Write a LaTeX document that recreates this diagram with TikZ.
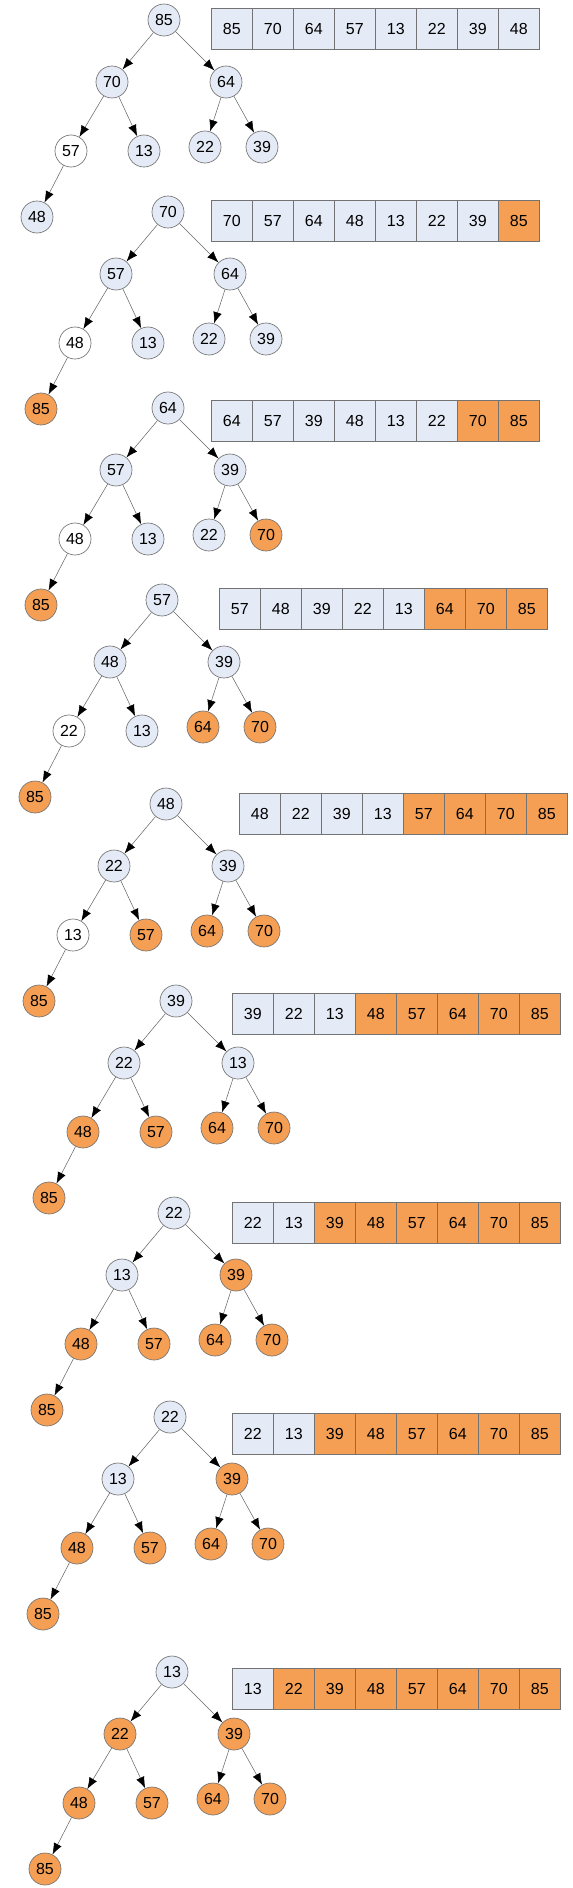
\documentclass[tikz,border=0pt]{standalone}
\usepackage{fontspec}
\setmainfont{Liberation Sans}
\usetikzlibrary{arrows.meta}
\definecolor{heapblue}{HTML}{E5EBF6}
\definecolor{heaporange}{HTML}{F59F54}
\colorlet{treeb}{heapblue}
\colorlet{treew}{white}
\colorlet{treeo}{heaporange}
\colorlet{cellb}{heapblue}
\colorlet{cellw}{heapblue}
\colorlet{cello}{heaporange}
\tikzset{ %inner sep = 0,
  >={Latex[length=8.5pt,width=6.5pt,color=black]},
  heapnode/.style = {circle, draw=black!55, line width=0.5pt, inner sep=0,
                  minimum size=24pt, font=\fontsize{12pt}{14pt}\selectfont},
  cell/.style = {rectangle, draw=black!55, line width=0.5pt, inner sep=0,
                  minimum width=30.75pt, minimum height=30.75pt,
                  anchor=north west, font=\fontsize{12pt}{14pt}\selectfont},
  link/.style = {->, draw=black!60, line width=0.4pt},
}
% places of the tree nodes, relative to the root
\def\treex{{0,-52,62,-93,-20,41,98,-127}}
\def\treey{{0,62,62,131,131,127,127,197}}
\newcommand{\heapstep}[4]{%
  \foreach \v/\f [count=\i] in {#4} {
    \pgfmathsetmacro\dx{\treex[\i-1]}
    \pgfmathsetmacro\dy{\treey[\i-1]}
    \node[heapnode, fill=tree\f] (#1n\i) at ([shift={(\dx,\dy)}]#2) {\v};
    \node[cell, fill=cell\f] (#1c\i) at ([shift={(\i*41-41,0)}]#3) {\v};
  }
  \foreach \c/\p in {2/1,3/1,4/2,5/2,6/3,7/3,8/4}
    \draw[link] (#1n\p) -- (#1n\c);
}
\begin{document}
\begin{tikzpicture}[x=0.75pt,y=-0.75pt]
    \useasboundingbox (0,0) rectangle (572,1888);
    \heapstep{a}{164,20}{211,8}{85/b,70/b,64/b,57/w,13/b,22/b,39/b,48/b}
    \heapstep{b}{168,212}{211,200}{70/b,57/b,64/b,48/w,13/b,22/b,39/b,85/o}
    \heapstep{c}{168,408}{211,400}{64/b,57/b,39/b,48/w,13/b,22/b,70/o,85/o}
    \heapstep{d}{162,600}{219,588}{57/b,48/b,39/b,22/w,13/b,64/o,70/o,85/o}
    \heapstep{e}{166,804}{239,793}{48/b,22/b,39/b,13/w,57/o,64/o,70/o,85/o}
    \heapstep{f}{176,1001}{232,993}{39/b,22/b,13/b,48/o,57/o,64/o,70/o,85/o}
    \heapstep{g}{174,1213}{232,1202}{22/b,13/b,39/o,48/o,57/o,64/o,70/o,85/o}
    \heapstep{h}{170,1417}{232,1413}{22/b,13/b,39/o,48/o,57/o,64/o,70/o,85/o}
    \heapstep{k}{172,1672}{232,1668}{13/b,22/o,39/o,48/o,57/o,64/o,70/o,85/o}
\end{tikzpicture}
\end{document}
